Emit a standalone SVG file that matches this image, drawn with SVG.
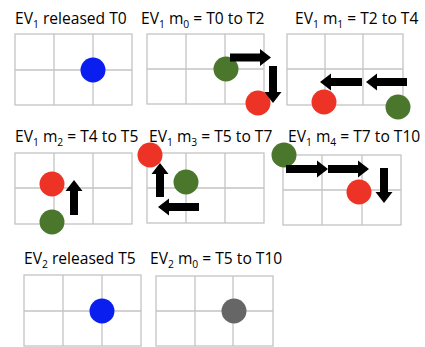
<svg xmlns="http://www.w3.org/2000/svg" width="425" height="347" viewBox="0 0 425 347">
<style>
.t{font-family:"Open Sans","Noto Sans",sans-serif;font-size:15.6px;fill:#000}
.s{font-size:10.3px}
.g{fill:none;stroke:#c4c4c4;stroke-width:1.3}
.blue{fill:#0a1ef0}
.red{fill:#ec3326}
.green{fill:#4a772b}
.gray{fill:#666}
.a{fill:#000}
</style>
<rect width="425" height="347" fill="#fff"/>

<g id="panel1">
<text class="t" x="15" y="24">EV<tspan class="s" dy="4">1</tspan><tspan dy="-4"> released T0</tspan></text>
<rect class="g" x="15" y="34" width="117" height="71"/>
<path class="g" d="M54 34V105M93 34V105M15 70H132"/>
<circle class="blue" cx="93" cy="70" r="12.5"/>
</g>

<g id="panel2">
<text class="t" x="141" y="24">EV<tspan class="s" dy="4">1</tspan><tspan dy="-4"> m</tspan><tspan class="s" dy="4">0</tspan><tspan dy="-4"> = T0 to T2</tspan></text>
<rect class="g" x="147" y="34" width="117" height="70"/>
<path class="g" d="M186 34V104M225 34V104M147 69H264"/>
<circle class="green" cx="226" cy="69" r="12.5"/>
<circle class="red" cx="258" cy="103" r="12.5"/>
</g>

<g id="panel3">
<text class="t" x="295" y="24">EV<tspan class="s" dy="4">1</tspan><tspan dy="-4"> m</tspan><tspan class="s" dy="4">1</tspan><tspan dy="-4"> = T2 to T4</tspan></text>
<rect class="g" x="287" y="34" width="116" height="71"/>
<path class="g" d="M325 34V105M363 34V105M287 69H403"/>
<circle class="red" cx="324" cy="102" r="12.5"/>
<circle class="green" cx="398" cy="107" r="12.5"/>
</g>

<g id="panel4">
<text class="t" x="15" y="142">EV<tspan class="s" dy="4">1</tspan><tspan dy="-4"> m</tspan><tspan class="s" dy="4">2</tspan><tspan dy="-4"> = T4 to T5</tspan></text>
<rect class="g" x="15" y="153" width="117" height="71"/>
<path class="g" d="M54 153V224M93 153V224M15 188H132"/>
<circle class="red" cx="52" cy="184" r="12.5"/>
<circle class="green" cx="52" cy="222" r="12.5"/>
</g>

<g id="panel5">
<text class="t" x="149" y="142">EV<tspan class="s" dy="4">1</tspan><tspan dy="-4"> m</tspan><tspan class="s" dy="4">3</tspan><tspan dy="-4"> = T5 to T7</tspan></text>
<rect class="g" x="147" y="153" width="117" height="70"/>
<path class="g" d="M186 153V223M225 153V223M147 188H264"/>
<circle class="red" cx="150" cy="155" r="12.5"/>
<circle class="green" cx="186" cy="182" r="12.5"/>
</g>

<g id="panel6">
<text class="t" x="288" y="142">EV<tspan class="s" dy="4">1</tspan><tspan dy="-4"> m</tspan><tspan class="s" dy="4">4</tspan><tspan dy="-4"> = T7 to T10</tspan></text>
<rect class="g" x="283" y="155" width="118" height="70"/>
<path class="g" d="M322 155V225M362 155V225M283 190H401"/>
<circle class="green" cx="284" cy="155" r="12.5"/>
<circle class="red" cx="359" cy="192" r="12.5"/>
</g>

<g id="panel7">
<text class="t" x="24" y="264">EV<tspan class="s" dy="4">2</tspan><tspan dy="-4"> released T5</tspan></text>
<rect class="g" x="24" y="275" width="117" height="71"/>
<path class="g" d="M63 275V346M102 275V346M24 311H141"/>
<circle class="blue" cx="102" cy="311" r="12.5"/>
</g>

<g id="panel8">
<text class="t" x="150" y="264">EV<tspan class="s" dy="4">2</tspan><tspan dy="-4"> m</tspan><tspan class="s" dy="4">0</tspan><tspan dy="-4"> = T5 to T10</tspan></text>
<rect class="g" x="156" y="276" width="117" height="70"/>
<path class="g" d="M195 276V346M233 276V346M156 311H273"/>
<circle class="gray" cx="234" cy="311" r="12.5"/>
</g>

<g id="connectors">
<polygon class="a" points="230,53.5 260,53.5 260,49 271,57.5 260,66 260,61.5 230,61.5"/>
<polygon class="a" points="269,66 277,66 277,92 281.5,92 273,103 264.5,92 269,92"/>
<polygon class="a" points="362,78 331,78 331,73.5 320,82 331,90.5 331,86 362,86"/>
<polygon class="a" points="407,78 377,78 377,73.5 366,82 377,90.5 377,86 407,86"/>
<polygon class="a" points="70,215 78,215 78,191 82.5,191 74,180 65.5,191 70,191"/>
<polygon class="a" points="156,197 164,197 164,174 168.5,174 160,163 151.5,174 156,174"/>
<polygon class="a" points="199,203 169,203 169,198.5 158,207 169,215.5 169,211 199,211"/>
<polygon class="a" points="286,165 317,165 317,160.5 328,169 317,177.5 317,173 286,173"/>
<polygon class="a" points="328,165 358,165 358,160.5 369,169 358,177.5 358,173 328,173"/>
<polygon class="a" points="380,168 388,168 388,192 392.5,192 384,203 375.5,192 380,192"/>
</g>
</svg>
